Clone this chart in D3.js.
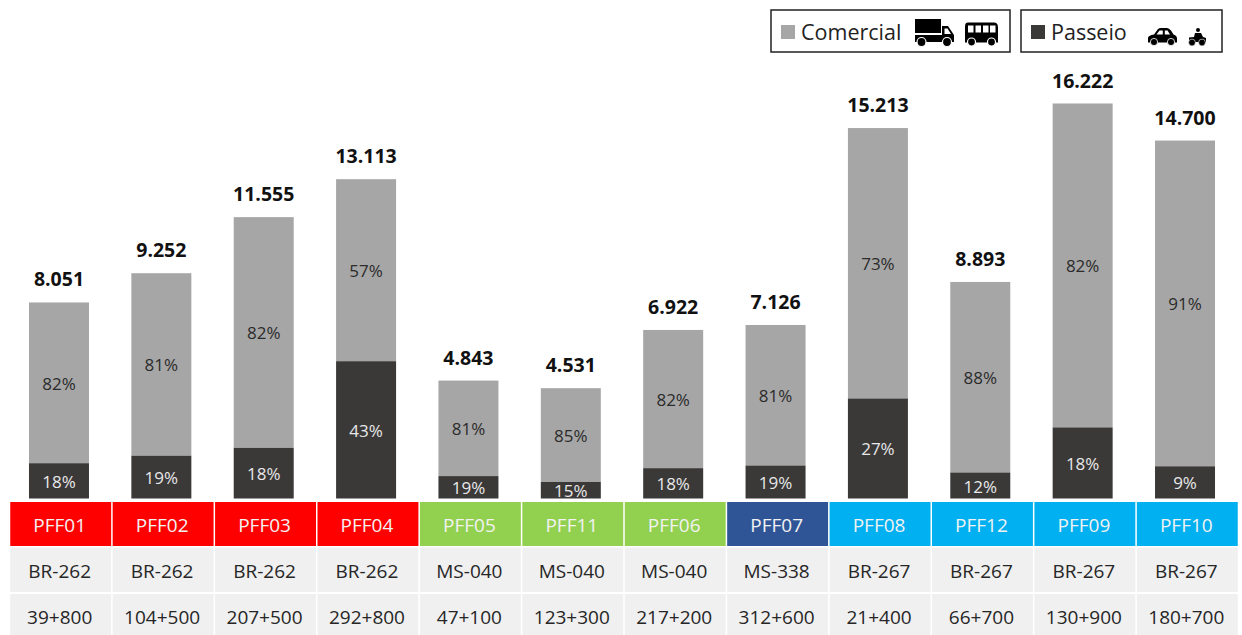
<!DOCTYPE html>
<html lang="pt">
<head>
<meta charset="utf-8">
<title>Volume de tráfego por posto</title>
<script src="https://cdn.jsdelivr.net/npm/d3@7"></script>
<style>
  html, body { margin: 0; padding: 0; background: #fff; }
  svg { display: block; }
  text { font-family: "Open Sans", "Noto Sans", sans-serif; }
</style>
</head>
<body>
<svg id="chart" width="1242" height="635"></svg>
<script>
// Postos de pesagem, na ordem em que aparecem no eixo
const postos = ["PFF01","PFF02","PFF03","PFF04","PFF05","PFF11","PFF06","PFF07","PFF08","PFF12","PFF09","PFF10"];
const rodovias = ["BR-262","BR-262","BR-262","BR-262","MS-040","MS-040","MS-040","MS-338","BR-267","BR-267","BR-267","BR-267"];
const quilometros = ["39+800","104+500","207+500","292+800","47+100","123+300","217+200","312+600","21+400","66+700","130+900","180+700"];
const totais = [8051,9252,11555,13113,4843,4531,6922,7126,15213,8893,16222,14700];
const pctComercial = [82,81,82,57,81,85,82,81,73,88,82,91];
const pctPasseio = [18,19,18,43,19,15,18,19,27,12,18,9];
const grupos = ["red","red","red","red","green","green","green","navy","blue","blue","blue","blue"];

const corGrupo = { red: "#ff0000", green: "#92d050", navy: "#2f5597", blue: "#00b0f0" };
const corComercial = "#a6a6a6";
const corPasseio = "#3b3838";

const svg = d3.select("#chart");
const ptBR = d3.formatLocale({ decimal: ",", thousands: ".", grouping: [3], currency: ["R$", ""] });
const fmt = ptBR.format(",d");

// Escalas das barras
const base = 498.5;
const y = d3.scaleLinear().domain([0, 16222]).range([base, 103.5]);
const gapBarra = 1 - 60 / 102.37;
const x = d3.scaleBand().domain(postos).range([7.8, 1236.2]).paddingInner(gapBarra).paddingOuter(gapBarra / 2);
const xTabela = d3.scaleBand().domain(postos).range([9.5, 1238.5]);

const linhas = postos.map((p, i) => ({
  posto: p,
  total: totais[i],
  passeio: totais[i] * pctPasseio[i] / 100,
  pctC: pctComercial[i],
  pctP: pctPasseio[i],
  grupo: grupos[i],
  rodovia: rodovias[i],
  km: quilometros[i]
}));

// Barras empilhadas
const barras = svg.append("g").selectAll("g").data(linhas).join("g");
barras.append("rect")
  .attr("x", d => x(d.posto)).attr("width", x.bandwidth())
  .attr("y", d => y(d.total)).attr("height", d => y(d.passeio) - y(d.total))
  .attr("fill", corComercial);
barras.append("rect")
  .attr("x", d => x(d.posto)).attr("width", x.bandwidth())
  .attr("y", d => y(d.passeio)).attr("height", d => base - y(d.passeio))
  .attr("fill", corPasseio);

// Rótulos de valor e de percentual
barras.append("text")
  .attr("x", d => x(d.posto) + x.bandwidth() / 2).attr("y", d => y(d.total) - 16)
  .attr("text-anchor", "middle").attr("font-size", 19.5).attr("font-weight", 700).attr("fill", "#111")
  .text(d => fmt(d.total));
barras.append("text")
  .attr("x", d => x(d.posto) + x.bandwidth() / 2)
  .attr("y", d => (y(d.total) + y(d.passeio)) / 2 + 7)
  .attr("text-anchor", "middle").attr("font-size", 17).attr("fill", "#2b2b2b")
  .text(d => d.pctC + "%");
barras.append("text")
  .attr("x", d => x(d.posto) + x.bandwidth() / 2)
  .attr("y", d => (base + y(d.passeio)) / 2 + 7)
  .attr("text-anchor", "middle").attr("font-size", 17).attr("fill", "#e8e8e8")
  .text(d => d.pctP + "%");

// Tabela abaixo do eixo
const tabela = [
  { topo: 502, altura: 44, chave: "posto", fundo: d => corGrupo[d.grupo], cor: "#f2f2f2", meio: 525 },
  { topo: 547.5, altura: 44.5, chave: "rodovia", fundo: () => "#f0f0f0", cor: "#262626", meio: 571 },
  { topo: 594, altura: 41, chave: "km", fundo: () => "#f0f0f0", cor: "#262626", meio: 617 }
];
tabela.forEach(l => {
  const g = svg.append("g");
  g.selectAll("rect").data(linhas).join("rect")
    .attr("x", d => xTabela(d.posto) + 0.75).attr("width", xTabela.bandwidth() - 1.5)
    .attr("y", l.topo).attr("height", l.altura).attr("fill", l.fundo);
  g.selectAll("text").data(linhas).join("text")
    .attr("x", d => xTabela(d.posto) + xTabela.bandwidth() / 2 - 1).attr("y", l.meio + 6.5)
    .attr("text-anchor", "middle").attr("font-size", 19).attr("fill", l.cor)
    .text(d => d[l.chave]);
});

// Ícones de veículos da legenda
function caminhao(g) {
  g.append("path").attr("d", "M0 0H26V14H0Z M0 16H27V7H33L39 16V23H0Z");
  g.append("path").attr("d", "M29.5 9.5V15H36L32.5 9.5Z").attr("fill", "#fff");
  [6.5, 32].forEach(cx => {
    g.append("circle").attr("cx", cx).attr("cy", 23).attr("r", 4.5).attr("stroke", "#fff").attr("stroke-width", 1.2);
  });
}
function onibus(g) {
  g.append("path").attr("d", "M3 0H29Q33 0 33 5V20H0V4Q0 0 3 0Z");
  [3, 10.5, 18, 25].forEach(px => {
    g.append("rect").attr("x", px).attr("y", 3).attr("width", 5.5).attr("height", 7).attr("fill", "#fff");
  });
  [6.5, 26.5].forEach(cx => {
    g.append("circle").attr("cx", cx).attr("cy", 19.5).attr("r", 4).attr("stroke", "#fff").attr("stroke-width", 1.2);
  });
}
function carro(g) {
  g.append("path").attr("d", "M0 10Q0 7.5 6 6.5L10 1Q11 0 13 0H19Q21 0 23 2.5L25.5 6.5Q29 7.5 29 10.5V14.5H0Z");
  g.append("path").attr("d", "M8.5 6.5L11.5 2.5H14.8V6.5Z M16.8 2.5H19.5L22 6.5H16.8Z").attr("fill", "#fff");
  [6, 23].forEach(cx => {
    g.append("circle").attr("cx", cx).attr("cy", 14).attr("r", 3.6).attr("stroke", "#fff").attr("stroke-width", 0.8);
  });
}
function moto(g) {
  g.append("circle").attr("cx", 10).attr("cy", 2).attr("r", 2);
  g.append("path").attr("d", "M7 5H13L15 9L18 10V14H1V9.5L6 9Z");
  [4, 14].forEach(cx => {
    g.append("circle").attr("cx", cx).attr("cy", 14.5).attr("r", 3.4).attr("stroke", "#fff").attr("stroke-width", 0.6);
  });
}

// Legenda
const legendas = [
  { nome: "Comercial", x: 771, w: 239, cor: corComercial, icones: [[caminhao, 915, 19], [onibus, 965, 22.5]] },
  { nome: "Passeio", x: 1021, w: 201, cor: corPasseio, icones: [[carro, 1148, 28], [moto, 1188, 28]] }
];
legendas.forEach(l => {
  const g = svg.append("g");
  g.append("rect").attr("x", l.x).attr("y", 10).attr("width", l.w).attr("height", 42)
    .attr("fill", "#fff").attr("stroke", "#222").attr("stroke-width", 1.5);
  g.append("rect").attr("x", l.x + 10).attr("y", 25).attr("width", 14).attr("height", 14).attr("fill", l.cor);
  g.append("text").attr("x", l.x + 30).attr("y", 39.5).attr("font-size", 21.5).attr("fill", "#222").text(l.nome);
  l.icones.forEach(([desenha, ix, iy]) => {
    desenha(g.append("g").attr("transform", `translate(${ix},${iy})`).attr("fill", "#000"));
  });
});
</script>
</body>
</html>
